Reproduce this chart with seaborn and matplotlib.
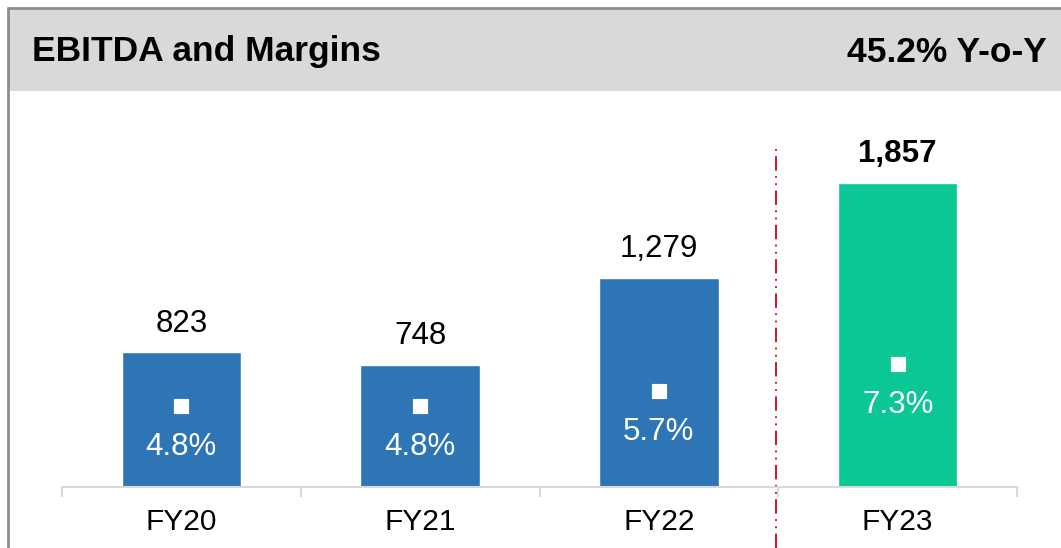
import pandas as pd
import matplotlib.pyplot as plt
import seaborn as sns
from matplotlib.patches import Rectangle
from matplotlib.lines import Line2D

# Data
years = ["FY20", "FY21", "FY22", "FY23"]
ebitda = [823, 748, 1279, 1857]
margins = [4.8, 4.8, 5.7, 7.3]
bar_colors = ["#2e75b6", "#2e75b6", "#2e75b6", "#0bc795"]
title = "EBITDA and Margins"
growth = "45.2% Y-o-Y"

df = pd.DataFrame({"Year": years, "EBITDA": ebitda, "Margin": margins})

sns.set_theme(style="white")
plt.rcParams["font.family"] = ["Liberation Sans", "DejaVu Sans"]

W, H = 1061, 548
fig = plt.figure(figsize=(W / 100, H / 100), dpi=100)

# header band and frame
fig.patches.append(Rectangle((8 / W, 1 - 91 / H), 1 - 8 / W, 83 / H,
                             transform=fig.transFigure, facecolor="#d9d9d9",
                             edgecolor="none", zorder=0))
fig.lines.append(Line2D([8 / W, 1], [1 - 8 / H, 1 - 8 / H], transform=fig.transFigure,
                        color="#8c8c8c", lw=2))
fig.lines.append(Line2D([8 / W, 8 / W], [0, 1 - 8 / H], transform=fig.transFigure,
                        color="#8c8c8c", lw=2))
fig.text(32 / W, 1 - 52 / H, title, fontsize=25.5, fontweight="bold",
         va="center", ha="left", color="black")
fig.text(1047 / W, 1 - 52 / H, growth, fontsize=25.5, fontweight="bold",
         va="center", ha="right", color="black")

# plot area
x0, x1, y_base, y_top = 62, 1017, 487, 130
ax = fig.add_axes([x0 / W, 1 - y_base / H, (x1 - x0) / W, (y_base - y_top) / H])
sns.barplot(data=df, x="Year", y="EBITDA", hue="Year", palette=bar_colors,
            width=0.5, legend=False, ax=ax, saturation=1)
ax.set_xlim(-0.5, 3.5)
ax.set_ylim(0, 2183)
ax.set_xlabel("")
ax.set_ylabel("")
ax.set_yticks([])
for s in ["top", "right", "left"]:
    ax.spines[s].set_visible(False)
ax.spines["bottom"].set_color("#d9d9d9")
ax.spines["bottom"].set_linewidth(1.5)
ax.set_xticks(range(len(years)))
ax.set_xticklabels(years, fontsize=21.5, color="black")
ax.set_xticks([i - 0.5 for i in range(len(years) + 1)], minor=True)
ax.tick_params(axis="x", which="major", length=0, pad=15)
ax.tick_params(axis="x", which="minor", length=7, width=1.5, color="#d9d9d9", bottom=True)

for i, v in enumerate(ebitda):
    last = i == len(ebitda) - 1
    ax.annotate(f"{v:,}", (i, v), xytext=(0, 10), textcoords="offset points",
                ha="center", va="bottom", fontsize=22.5,
                fontweight="bold" if last else "normal", color="black")

# margins on secondary axis
ax2 = ax.twinx()
sns.scatterplot(data=df, x="Year", y="Margin", marker="s", s=110, color="white",
                edgecolor="white", ax=ax2, zorder=5)
ax2.set_ylim(0, 21.25)
ax2.set_xlim(-0.5, 3.5)
ax2.set_yticks([])
ax2.set_ylabel("")
ax2.set_xlabel("")
for s in ax2.spines.values():
    s.set_visible(False)
for i, m in enumerate(margins):
    ax2.annotate(f"{m}%", (i, m), xytext=(0, -29), textcoords="offset points",
                 ha="center", va="center", fontsize=22.5, color="white")

# separator before the latest year
ax.axvline(2.49, ymin=(y_base - H) / (y_base - y_top), ymax=(y_base - 148) / (y_base - y_top),
           color="#d0021b", lw=1.3, linestyle=(0, (8, 3, 1, 3, 1, 3)), clip_on=False)

plt.savefig("out.png", dpi=100)
